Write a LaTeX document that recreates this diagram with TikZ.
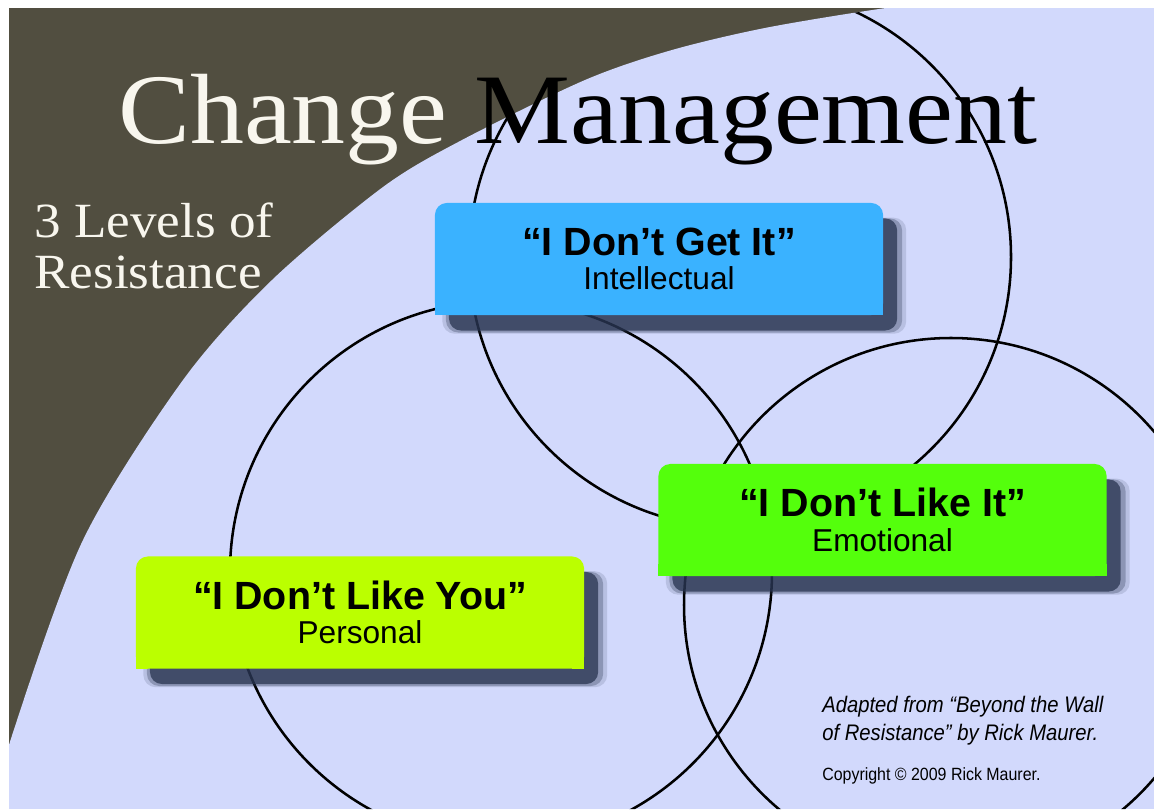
\documentclass[tikz,border=0pt]{standalone}
\usepackage{fontspec}
\usetikzlibrary{shadows}
\newfontfamily\titlefont[FakeStretch=1.08]{Liberation Serif}
\newfontfamily\boxfont{Liberation Sans}
\newfontfamily\notefont[FakeStretch=0.9]{Liberation Sans}

\definecolor{darkbg}{RGB}{81,78,64}
\definecolor{lavender}{RGB}{210,217,252}
\definecolor{titlewhite}{RGB}{248,246,238}
\definecolor{getblue}{RGB}{58,178,255}
\definecolor{likegreen}{RGB}{84,255,12}
\definecolor{youlime}{RGB}{187,255,0}
\definecolor{shadowc}{RGB}{40,52,80}

\newcommand{\saying}[1]{{\bfseries\fontsize{28}{30}\selectfont #1}}

\tikzset{
    ring/.style={line width=1.8pt, black},
    levelbox/.style={rounded corners=8.5pt, minimum width=318.7pt, minimum height=79.7pt,
        inner sep=0pt, align=center, font=\boxfont\fontsize{22.5}{24.5}\selectfont,
        drop shadow={shadow xshift=10.5pt, shadow yshift=-11.5pt, shadow scale=1.035, fill=shadowc, opacity=.15},
        drop shadow={shadow xshift=10.5pt, shadow yshift=-11.5pt, shadow scale=1.018, fill=shadowc, opacity=.3},
        drop shadow={shadow xshift=10pt, shadow yshift=-11pt, fill=shadowc, opacity=.75}}
}

\begin{document}
\begin{tikzpicture}[x=0.025cm, y=-0.025cm]

        \useasboundingbox (0,0) rectangle (1154,809);
        \fill [white] (0,0) rectangle (1154,809);

        \begin{scope}
            \clip (9,8) rectangle (1154,809);
            \fill [darkbg] (9,8) rectangle (1154,809);
            \clip plot [smooth] coordinates {(0,792) (11.5,737) (83,540) (183,380) (272,280) (383,187) (462,140) (585,80) (672,50) (770,27) (900,6) (1000,-4) (1154,-10)}
                -- (1154,809) -- (0,809) -- cycle;
            \fill [lavender] (0,0) rectangle (1154,809);

            \draw [ring] (740,257) circle [radius=271];
            \draw [ring] (501,572) circle [radius=271];
            \draw [ring] (951,605) circle [radius=267];
        \end{scope}

        \node [anchor=base west, inner sep=0pt, font=\titlefont\fontsize{71}{80}\selectfont] (title) at (118,143) {\textcolor{titlewhite}{Change} Management};
        \node [anchor=north west, inner sep=0pt, align=left, text=titlewhite, font=\titlefont\fontsize{35}{35.6}\selectfont] (levels) at (34,203) {3 Levels of\\Resistance};

        \node [levelbox, fill=getblue] (get) at (659,259) {\saying{“I Don’t Get It”}\\Intellectual};
        \node [levelbox, fill=likegreen] (like) at (882.5,520) {\saying{“I Don’t Like It”}\\Emotional};
        \node [levelbox, fill=youlime] (you) at (360,612.5) {\saying{“I Don’t Like You”}\\Personal};

        \fill [getblue] (get.south west) rectangle ++(12,-12);
        \fill [getblue] (get.south east) rectangle ++(-12,-12);
        \fill [likegreen] (like.south west) rectangle ++(12,-12);
        \fill [likegreen] (like.south east) rectangle ++(-12,-12);
        \fill [youlime] (you.south west) rectangle ++(12,-12);
        \fill [youlime] (you.south east) rectangle ++(-12,-12);

        \node [anchor=north west, inner sep=0pt, align=left, font=\notefont\itshape\fontsize{16}{20}\selectfont] (source) at (822,695.5) {Adapted from “Beyond the Wall\\of Resistance” by Rick Maurer.};
        \node [anchor=base west, inner sep=0pt, font=\notefont\fontsize{12.6}{14}\selectfont] (copy) at (822,780) {Copyright © 2009 Rick Maurer.};

    \end{tikzpicture}
\end{document}
